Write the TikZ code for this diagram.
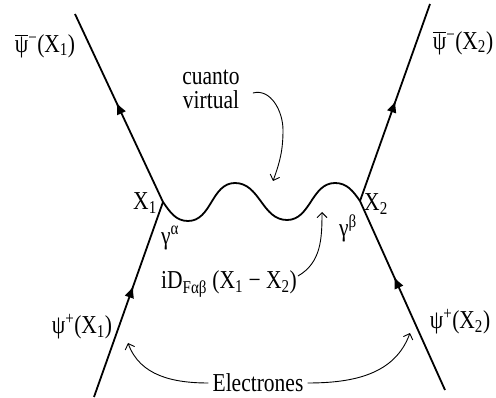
\documentclass[tikz,border=0pt]{standalone}
\usepackage{fontspec}
\setmainfont{Liberation Serif}
\usetikzlibrary{arrows.meta,decorations.markings}

\tikzset{
  fermion/.style={line width=1.8pt, postaction={decorate},
    decoration={markings, mark=at position #1 with {\arrow{Latex[length=12pt,width=10pt]}}}},
  photon/.style={line width=1.8pt},
  pointer/.style={line width=0.9pt, -{Straight Barb[length=5pt,width=10pt]}},
  lbl/.style={font=\fontsize{21.5}{20}\selectfont, inner sep=1pt, yscale=1.2, transform shape},
}
\newcommand{\psibar}{$\overline{\hbox{ψ}}$}

\begin{document}
\begin{tikzpicture}[x=1pt,y=-1pt]
\useasboundingbox (0,0) rectangle (496,398);

% vertices and free ends of the electron lines
\coordinate (v1) at (163,202);
\coordinate (v2) at (360,201);
\coordinate (in1) at (94,397);
\coordinate (out1) at (75,14);
\coordinate (in2) at (445,390);
\coordinate (out2) at (430,4);

\draw[fermion=0.57] (in1) -- (v1);
\draw[fermion=0.53] (v1) -- (out1);
\draw[fermion=0.6] (in2) -- (v2);
\draw[fermion=0.51] (v2) -- (out2);

% virtual quantum
\draw[photon] (v1) to[out=-55,in=180] (188,221) to[out=0,in=180] (235,183)
  to[out=0,in=180] (287,220) to[out=0,in=180] (335,183) to[out=0,in=125] (v2);

\node[lbl] (xa) at (145,203) {X\textsubscript{1}};
\node[lbl] (xb) at (376,204) {X\textsubscript{2}};
\node[lbl] (ga) at (170,238) {γ\textsuperscript{α}};
\node[lbl] (gb) at (348,228) {γ\textsuperscript{β}};

\node[lbl] (pb1) at (45,46) {\psibar\textsuperscript{−}(X\textsubscript{1})};
\node[lbl] (pb2) at (463,43) {\psibar\textsuperscript{−}(X\textsubscript{2})};
\node[lbl] (p1) at (82,327) {ψ\textsuperscript{+}(X\textsubscript{1})};
\node[lbl] (p2) at (460,322) {ψ\textsuperscript{+}(X\textsubscript{2})};

\node[lbl] (prop) at (229,284) {iD\textsubscript{Fαβ} (X\textsubscript{1} − X\textsubscript{2})};
\node[lbl, align=center] (cv) at (211,89) {cuanto\\virtual};
\node[lbl, inner sep=4pt] (el) at (258,383) {Electrones};

% pointers
\coordinate (wtip) at (273,181);
\coordinate (ptip) at (322,212);
\coordinate (etip1) at (128,343);
\coordinate (etip2) at (410,333);

\draw[pointer] ([xshift=12pt,yshift=-4pt]cv.east) to[out=15,in=90] (283,130) to[out=-90,in=70] (wtip);
\draw[pointer] ([yshift=8pt]prop.east) to[out=30,in=-90] (ptip);
\draw[pointer] (el.west) to[out=180,in=-70] (etip1);
\draw[pointer] (el.east) to[out=0,in=-110] (etip2);
\end{tikzpicture}
\end{document}
